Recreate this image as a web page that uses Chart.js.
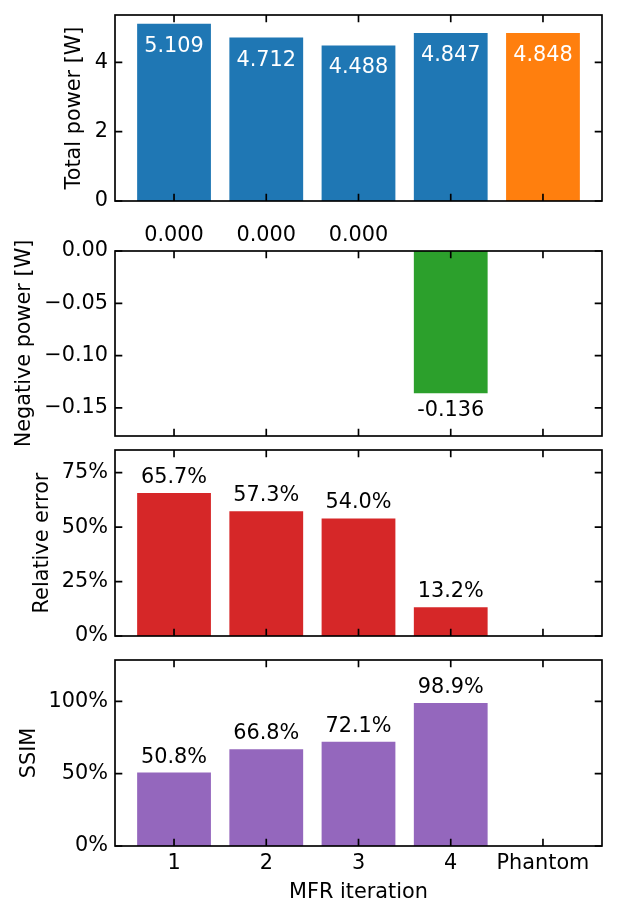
<!DOCTYPE html>
<html>
<head>
<meta charset="utf-8">
<script src="https://cdn.jsdelivr.net/npm/chart.js@4.4.0/dist/chart.umd.min.js"></script>
<style>
  html, body { margin: 0; padding: 0; background: #fff; }
  #fig { position: relative; width: 617px; height: 917px; }
  #fig canvas { position: absolute; left: 0; }
</style>
</head>
<body>
<div id="fig">
  <canvas id="powerChart" width="617" height="215" style="top:0px"></canvas>
  <canvas id="negChart" width="617" height="230" style="top:215px"></canvas>
  <canvas id="errChart" width="617" height="205" style="top:445px"></canvas>
  <canvas id="ssimChart" width="617" height="267" style="top:650px"></canvas>
</div>
<script>
// data
const categories = ['1', '2', '3', '4', 'Phantom'];
const totalPower = [5.109, 4.712, 4.488, 4.847, 4.848];
const negativePower = [0, 0, 0, -0.136, null];
const relativeError = [65.7, 57.3, 54.0, 13.2, null];
const ssim = [50.8, 66.8, 72.1, 98.9, null];

const powerTicks = [0, 2, 4];
const negTicks = [0, -0.05, -0.10, -0.15];
const errTicks = [0, 25, 50, 75];
const ssimTicks = [0, 50, 100];

const FONT_PX = 20.8;
Chart.defaults.font.family = "'DejaVu Sans', sans-serif";
Chart.defaults.font.size = FONT_PX;
Chart.defaults.color = '#000';

// matplotlib-like box with inward ticks on all sides, plus the bar value labels
function makeFrame(fmt, inside) {
    return {
        id: 'frame',
        afterDatasetsDraw(chart) {
            const { ctx, chartArea: a, scales: { x, y } } = chart;
            const tick = 7.3;
            ctx.save();
            ctx.strokeStyle = '#000';
            ctx.lineWidth = 1.67;
            ctx.beginPath();
            x.ticks.forEach(t => {
                const px = x.getPixelForValue(t.value);
                ctx.moveTo(px, a.bottom); ctx.lineTo(px, a.bottom - tick);
                ctx.moveTo(px, a.top); ctx.lineTo(px, a.top + tick);
            });
            y.ticks.forEach(t => {
                const py = y.getPixelForValue(t.value);
                ctx.moveTo(a.left, py); ctx.lineTo(a.left + tick, py);
                ctx.moveTo(a.right, py); ctx.lineTo(a.right - tick, py);
            });
            ctx.stroke();
            ctx.strokeRect(a.left, a.top, a.right - a.left, a.bottom - a.top);

            const points = chart.data.datasets[0].data;
            ctx.font = FONT_PX + "px 'DejaVu Sans'";
            ctx.textAlign = 'center';
            ctx.textBaseline = 'alphabetic';
            ctx.fillStyle = inside ? '#fff' : '#000';
            chart.getDatasetMeta(0).data.forEach((bar, i) => {
                const v = points[i].y;
                if (v === null) return;
                let ty;
                if (inside) ty = bar.y + 28;
                else ty = v < 0 ? bar.y + 23 : bar.y - 10;
                ctx.fillText(fmt(v), bar.x, ty);
            });
            ctx.restore();
        }
    };
}

function makePanel(id, cfg) {
    const half = FONT_PX * 1.2 / 2;
    return new Chart(document.getElementById(id), {
        type: 'bar',
        data: {
            datasets: [{
                data: cfg.values.map((v, i) => ({ x: i, y: v })),
                backgroundColor: cfg.colors,
                borderWidth: 0,
                barPercentage: 0.8,
                categoryPercentage: 1
            }]
        },
        options: {
            responsive: false,
            animation: false,
            events: [],
            layout: { padding: { top: cfg.padTop, right: 15, bottom: 0, left: 0 } },
            plugins: { legend: { display: false }, tooltip: { enabled: false } },
            scales: {
                x: {
                    type: 'linear',
                    offset: false,
                    min: -0.64,
                    max: 4.64,
                    grid: { display: false, drawTicks: false, offset: false },
                    border: { display: false },
                    afterBuildTicks: s => { s.ticks = categories.map((c, i) => ({ value: i })); },
                    afterFit: s => { s.height = cfg.xHeight; s.paddingLeft = 0; s.paddingRight = 0; },
                    ticks: {
                        display: !!cfg.showX,
                        padding: 5,
                        maxRotation: 0,
                        autoSkip: false,
                        callback: (v, i) => categories[i]
                    },
                    title: { display: !!cfg.showX, text: 'MFR iteration', padding: { top: 0, bottom: 12 } }
                },
                y: {
                    min: cfg.min,
                    max: cfg.max,
                    grid: { display: false, drawTicks: false },
                    border: { display: false },
                    afterBuildTicks: s => { s.ticks = cfg.ticks.map(v => ({ value: v })); },
                    afterFit: s => { s.width = 115; s.paddingTop = 0; s.paddingBottom = 0; },
                    ticks: { padding: 7, callback: cfg.tickFmt },
                    title: { display: true, text: cfg.label, padding: { top: cfg.labelX - half + 2, bottom: 0 } }
                }
            }
        },
        plugins: [makeFrame(cfg.valueFmt, cfg.inside)]
    });
}

makePanel('powerChart', {
    values: totalPower,
    colors: ['#1f77b4', '#1f77b4', '#1f77b4', '#1f77b4', '#ff7f0e'],
    min: 0, max: 5.364,
    ticks: powerTicks,
    tickFmt: v => String(v),
    valueFmt: v => v.toFixed(3),
    inside: true,
    label: 'Total power [W]',
    labelX: 73,
    padTop: 15, xHeight: 14
});

makePanel('negChart', {
    values: negativePower,
    colors: '#2ca02c',
    min: -0.1768, max: 0,
    ticks: negTicks,
    tickFmt: v => v.toFixed(2).replace('-', '\u2212'),
    valueFmt: v => v.toFixed(3),
    label: 'Negative power [W]',
    labelX: 23,
    padTop: 36, xHeight: 9
});

makePanel('errChart', {
    values: relativeError,
    colors: '#d62728',
    min: 0, max: 85.41,
    ticks: errTicks,
    tickFmt: v => v + '%',
    valueFmt: v => v.toFixed(1) + '%',
    label: 'Relative error',
    labelX: 41,
    padTop: 5, xHeight: 14
});

makePanel('ssimChart', {
    values: ssim,
    colors: '#9467bd',
    min: 0, max: 128.57,
    ticks: ssimTicks,
    tickFmt: v => v + '%',
    valueFmt: v => v.toFixed(1) + '%',
    label: 'SSIM',
    labelX: 28,
    padTop: 10, xHeight: 71,
    showX: true
});
</script>
</body>
</html>
